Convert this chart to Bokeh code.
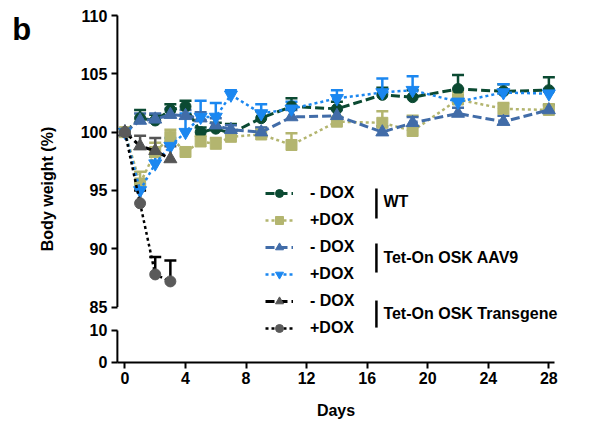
from bokeh.plotting import figure
from bokeh.models import (ColumnDataSource, Whisker, TeeHead, Legend, LegendItem,
                          Label, Arrow, FixedTicker)
from bokeh.embed import file_html
from bokeh.resources import INLINE

# ---------------- data ----------------
days = [0, 1, 2, 3, 4, 5, 6, 7, 9, 11, 14, 17, 19, 22, 25, 28]
tg_days = [0, 1, 2, 3]

wt_minus = [100, 101.2, 101.0, 101.9, 102.2, 100.0, 100.3, 99.9, 101.2, 102.2, 102.0, 103.2, 103.0, 103.7, 103.5, 103.6]
wt_minus_err = [0, 0.7, 0.5, 0.5, 0.5, 0.4, 0.5, 0.8, 0.6, 0.7, 0.6, 0.6, 0.6, 1.2, 0.6, 1.1]

wt_plus = [100, 95.6, 98.3, 99.6, 98.3, 99.2, 99.0, 99.6, 99.8, 98.9, 100.9, 100.8, 100.1, 102.8, 102.0, 101.9]
wt_plus_err = [0, 1.0, 0.8, 0.6, 0.3, 0.5, 0.5, 0.4, 0.6, 1.0, 0.4, 1.0, 1.3, 0.6, 0.5, 0.5]

aav_minus = [100, 101.0, 101.1, 101.5, 101.4, 101.2, 100.6, 100.2, 100.0, 101.3, 101.4, 100.0, 100.8, 101.6, 100.9, 101.9]
aav_minus_err = [0, 0.6, 0.5, 0.5, 0.5, 0.5, 0.6, 0.4, 0.4, 0.6, 0.5, 0.5, 0.5, 0.5, 0.5, 0.4]

aav_plus = [100, 95.0, 97.3, 98.8, 100.0, 101.3, 101.3, 103.2, 101.6, 102.0, 102.9, 103.4, 103.6, 102.6, 103.4, 103.3]
aav_plus_err = [0, 0.5, 0.6, 0.7, 1.6, 1.4, 1.2, 0.4, 0.8, 0.6, 0.7, 1.2, 1.2, 0.5, 0.7, 0.4]

tg_minus = [100, 98.8, 98.4, 97.7]
tg_minus_err = [0, 0.9, 1.1, 1.1]

tg_plus = [100, 93.9, 87.8, 87.2]
tg_plus_err = [0, 1.1, 1.5, 1.8]

legend_labels = ["- DOX", "+DOX", "- DOX", "+DOX", "- DOX", "+DOX"]
group_labels = ["WT", "Tet-On OSK AAV9", "Tet-On OSK Transgene"]

x_ticks = [0, 4, 8, 12, 16, 20, 24, 28]
upper_ticks = [85, 90, 95, 100, 105, 110]
lower_ticks = [0, 10]

# ---------------- broken axis mapping ----------------
X_AXIS_START, X_AXIS_END = -0.5, 28.4     # drawn extent of the x axis
X_VIEW_START, X_VIEW_END = -8.22, 30.75   # whole canvas is plotting area
Y_ZERO, Y_TEN = 80.25, 83.0               # plot positions of the lower-segment ticks 0 and 10
Y_TOP = 110
Y_VIEW_BOTTOM, Y_VIEW_TOP = 75.10, 111.29


def lower_pos(v):
    return Y_ZERO + v * (Y_TEN - Y_ZERO) / 10.0


FONT = "Liberation Sans"

p = figure(frame_width=590, frame_height=422,
           x_range=(X_VIEW_START, X_VIEW_END), y_range=(Y_VIEW_BOTTOM, Y_VIEW_TOP),
           output_backend="svg", toolbar_location=None,
           min_border_left=0, min_border_top=0, min_border_right=0,
           min_border_bottom=0)
p.outline_line_color = None
p.xgrid.visible = False
p.ygrid.visible = False
p.background_fill_color = "white"

series = [
    dict(x=days, y=wt_minus, e=wt_minus_err, lc="#0b4a32", mc="#0b4a32", ec="#0b4a32",
         marker="circle", size=11, dash="9 4", lw=3),
    dict(x=days, y=wt_plus, e=wt_plus_err, lc="#b3b56f", mc="#b3b56f", ec="#b3b56f",
         marker="square", size=11, dash="3 3", lw=2.5),
    dict(x=days, y=aav_minus, e=aav_minus_err, lc="#416ca8", mc="#416ca8", ec="#416ca8",
         marker="triangle", size=13, dash="9 4", lw=3),
    dict(x=days, y=aav_plus, e=aav_plus_err, lc="#1b87f0", mc="#1b87f0", ec="#1b87f0",
         marker="inverted_triangle", size=13, dash="3 3", lw=2.5),
    dict(x=tg_days, y=tg_minus, e=tg_minus_err, lc="#000000", mc="#555555", ec="#555555",
         marker="triangle", size=13, dash="9 4", lw=3),
    dict(x=tg_days, y=tg_plus, e=tg_plus_err, lc="#000000", mc="#5a5a5a", ec="#000000",
         marker="circle", size=11, dash="3 3", lw=2.5),
]

items = []
for s, lab in zip(series, legend_labels):
    src = ColumnDataSource(dict(x=s["x"], y=s["y"],
                                upper=[a + b for a, b in zip(s["y"], s["e"])]))
    ln = p.line("x", "y", source=src, line_color=s["lc"], line_width=s["lw"],
                line_dash=s["dash"])
    sc = p.scatter("x", "y", source=src, marker=s["marker"], size=s["size"],
                   fill_color=s["mc"], line_color=s["mc"])
    wh = Whisker(source=src, base="x", lower="y", upper="upper", dimension="height",
                 line_color=s["ec"], line_width=2.5, lower_head=None,
                 upper_head=TeeHead(size=12, line_color=s["ec"], line_width=2.5))
    p.add_layout(wh)
    items.append(LegendItem(label=lab, renderers=[ln, sc]))

legend = Legend(items=items, location=(265, 84), orientation="vertical",
                background_fill_alpha=0, border_line_color=None,
                label_text_font=FONT, label_text_font_style="bold",
                label_text_font_size="16px", label_text_color="black",
                glyph_width=28, glyph_height=20,
                label_height=20, spacing=7, padding=0, margin=0, label_standoff=17)
p.add_layout(legend)

# group labels with bars
group_y = [94.05, 89.25, 84.44]
bar_y = [(95.16, 92.59), (90.45, 87.96), (85.56, 83.24)]
for txt, gy, (b0, b1) in zip(group_labels, group_y, bar_y):
    p.add_layout(Label(x=17.07, y=gy, text=txt, text_font=FONT, text_font_style="bold",
                       text_font_size="16px", text_baseline="middle", text_color="black"))
    p.add_layout(Arrow(start=None, end=None, x_start=16.61, y_start=b0, x_end=16.61,
                       y_end=b1, line_width=2.5, line_color="black"))

# ---------------- axes ----------------
ax = p.xaxis[0]
ax.fixed_location = Y_ZERO
ax.ticker = FixedTicker(ticks=x_ticks)
ax.bounds = (X_AXIS_START, X_AXIS_END)
ax.minor_tick_line_color = None
ax.major_tick_in = 0
ax.major_tick_out = 6
ax.major_tick_line_width = 2
ax.axis_line_width = 2
ax.major_label_text_font = FONT
ax.major_label_text_font_style = "bold"
ax.major_label_text_font_size = "16px"
ax.major_label_text_color = "black"
ax.major_label_standoff = 4
ax.axis_label = "Days"
ax.axis_label_text_font = FONT
ax.axis_label_text_font_style = "bold"
ax.axis_label_text_font_size = "16px"
ax.axis_label_text_color = "black"
ax.axis_label_standoff = 14

ay = p.yaxis[0]
ay.fixed_location = X_AXIS_START
ay.bounds = (Y_ZERO, Y_TOP)
lower_plot = [lower_pos(v) for v in lower_ticks]
ay.ticker = FixedTicker(ticks=lower_plot + upper_ticks)
ay.major_label_overrides = {pos: str(v) for pos, v in zip(lower_plot, lower_ticks)}
ay.minor_tick_line_color = None
ay.major_tick_in = 0
ay.major_tick_out = 6
ay.major_tick_line_width = 2
ay.axis_line_color = None
ay.major_label_text_font = FONT
ay.major_label_text_font_style = "bold"
ay.major_label_text_font_size = "16px"
ay.major_label_text_color = "black"
ay.major_label_standoff = 4
ay.axis_label = "Body weight (%)"
ay.axis_label_text_font = FONT
ay.axis_label_text_font_style = "bold"
ay.axis_label_text_font_size = "16px"
ay.axis_label_text_color = "black"
ay.axis_label_standoff = 22

# broken y axis line pieces
p.add_layout(Arrow(start=None, end=None, x_start=X_AXIS_START, y_start=upper_ticks[0],
                   x_end=X_AXIS_START, y_end=upper_ticks[-1], line_width=2, line_color="black"))
p.add_layout(Arrow(start=None, end=None, x_start=X_AXIS_START, y_start=lower_pos(lower_ticks[0]),
                   x_end=X_AXIS_START, y_end=lower_pos(lower_ticks[-1]), line_width=2,
                   line_color="black"))

# panel letter
p.add_layout(Label(x=-7.45, y=108.8, text="b", text_font=FONT, text_font_style="bold",
                   text_font_size="31px", text_baseline="alphabetic", text_color="black"))

open("out.html", "w").write(file_html(p, INLINE))
